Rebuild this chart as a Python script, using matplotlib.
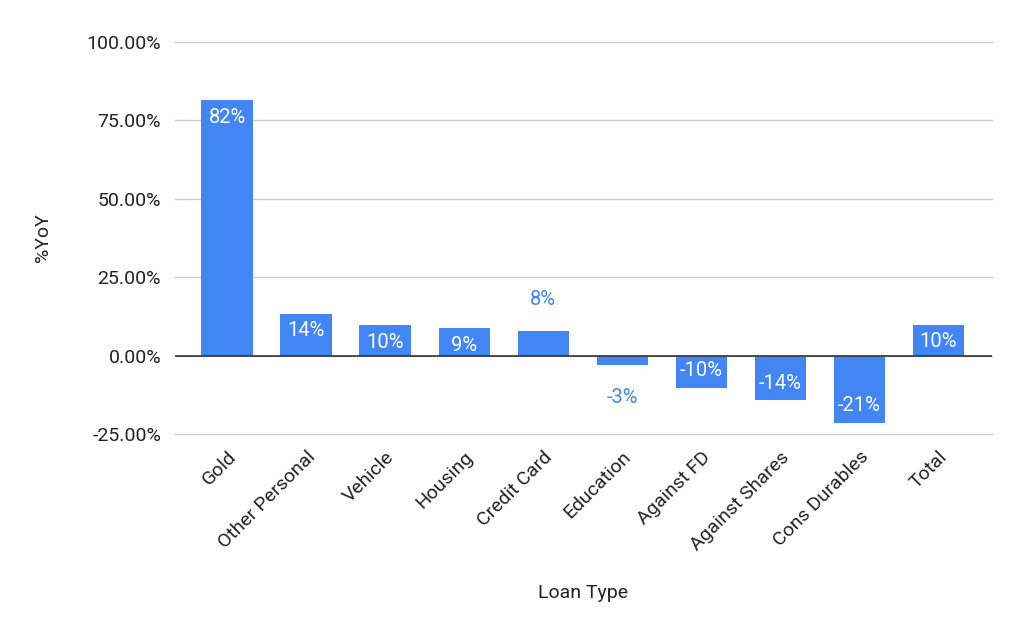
import numpy as np
import matplotlib; matplotlib.use("Agg")
import matplotlib.pyplot as plt
from matplotlib.ticker import FuncFormatter

plt.rcParams.update({"font.family": ["Roboto", "DejaVu Sans"], "font.size": 14})

BLUE = "#4285f4"
categories = ["Gold", "Other Personal", "Vehicle", "Housing", "Credit Card",
              "Education", "Against FD", "Against Shares", "Cons Durables", "Total"]
yoy = [81.6, 13.4, 9.6, 8.7, 7.7, -3.1, -10.2, -14.3, -21.4, 9.9]
labels = ["82%", "14%", "10%", "9%", "8%", "-3%", "-10%", "-14%", "-21%", "10%"]
outside = [False, False, False, False, True, True, False, False, False, False]

fig = plt.figure(figsize=(10.24, 6.33), dpi=100)
ax = fig.add_axes([175 / 1024, 1 - 434 / 633, 817 / 1024, 392 / 633])
x = np.arange(len(categories))
ax.bar(x, yoy, width=0.65, color=BLUE, zorder=3)
ax.axhline(0, color="#333333", lw=1.2, zorder=4)

for xi, v, lab, out in zip(x, yoy, labels, outside):
    sgn = 1 if v >= 0 else -1
    if out:
        ax.annotate(lab, (xi, v), xytext=(0, sgn * 23), textcoords="offset points",
                    ha="center", va="center", color=BLUE, fontsize=14.5, zorder=5)
    else:
        ax.annotate(lab, (xi, v), xytext=(0, -sgn * 12.5), textcoords="offset points",
                    ha="center", va="center", color="white", fontsize=14.5, zorder=5)

ax.set_xlim(-0.66, 9.68)
ax.set_ylim(-25, 100)
ax.set_yticks([-25, 0, 25, 50, 75, 100])
ax.yaxis.set_major_formatter(FuncFormatter(lambda v, p: f"{v:.2f}%"))
ax.grid(axis="y", color="#cccccc", lw=1, zorder=0)
for gl in ax.get_ygridlines():
    gl.set_clip_on(False)
ax.set_xticks(x)
ax.set_xticklabels(categories, rotation=45, ha="right", rotation_mode="anchor")
for s in ax.spines.values():
    s.set_visible(False)
ax.tick_params(axis="both", length=0, labelsize=14, colors="#222222")
ax.tick_params(axis="y", pad=10)
ax.tick_params(axis="x", pad=10)
ax.set_ylabel("%YoY", fontsize=14, color="#222222", labelpad=25)
ax.set_xlabel("Loan Type", fontsize=14, color="#222222", labelpad=22)

fig.savefig("out.png", dpi=100, facecolor="white")
